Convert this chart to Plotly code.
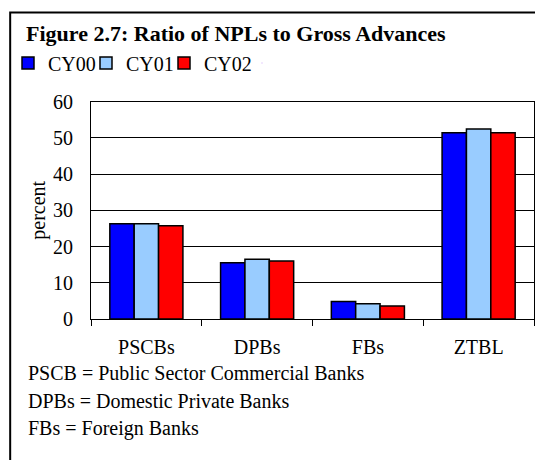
import plotly.graph_objects as go

# Data.
banks = ['PSCBs', 'DPBs', 'FBs', 'ZTBL']
cy00 = [26.3, 15.5, 4.8, 51.4]
cy01 = [26.3, 16.5, 4.2, 52.4]
cy02 = [25.7, 16.0, 3.6, 51.4]
series_names = ['CY00', 'CY01', 'CY02']
series_colors = ['#0000FF', '#99CCFF', '#FF0000']
notes = ['PSCB = Public Sector Commercial Banks',
         'DPBs = Domestic Private Banks',
         'FBs = Foreign Banks']

# The page body adds an 8px margin, so the figure is 8px smaller
# and everything below is placed in page pixels minus that offset.
OFF = 8
W, H = 543 - OFF, 460 - OFF
L, R, T, B = 91 - OFF, 8, 99 - OFF, 141
pw, ph = W - L - R, H - T - B


def px_x(x):
    return (x - OFF - L) / pw


def px_y(y):
    return (H - B - (y - OFF)) / ph


font = 'Liberation Serif, Times New Roman, serif'

fig = go.Figure()
for name, vals, color in zip(series_names, [cy00, cy01, cy02], series_colors):
    fig.add_trace(go.Bar(x=banks, y=vals, name=name, marker_color=color,
                         marker_line=dict(color='black', width=1.5)))

# Empty legend slot so the last legend label is not clipped.
fig.add_trace(go.Scatter(x=[banks[0]], y=[0], mode='markers', name=' ',
                         marker=dict(size=1, opacity=0), hoverinfo='skip'))

fig.update_layout(
    width=W, height=H,
    margin=dict(l=L, r=R, t=T, b=B),
    paper_bgcolor='white', plot_bgcolor='white',
    font=dict(family=font, size=20, color='black'),
    barmode='group', bargap=0.34, bargroupgap=0,
    title=dict(text='<b>Figure 2.7: Ratio of NPLs to Gross Advances</b>',
               x=(26 - OFF) / W, xref='container', xanchor='left',
               y=1 - (33 - OFF) / H, yref='container', yanchor='middle',
               font=dict(family=font, size=22)),
    legend=dict(orientation='h', xref='container', yref='container',
                x=0, y=1 - (63 - OFF) / H,
                xanchor='left', yanchor='middle',
                entrywidth=33, itemwidth=30,
                font=dict(family=font, size=20), bgcolor='rgba(0,0,0,0)'),
    showlegend=True,
)

fig.update_yaxes(range=[0, 60], dtick=10, showgrid=True, gridcolor='black',
                 gridwidth=1, showline=True, linecolor='black', linewidth=1,
                 mirror=True, ticks='', zeroline=False, ticklabelstandoff=13,
                 tickfont=dict(family=font, size=20),
                 title=dict(text='percent', standoff=2,
                            font=dict(family=font, size=20)))
fig.update_xaxes(showline=True, linecolor='black', linewidth=1, mirror=True,
                 ticks='outside', tickson='boundaries', ticklen=6,
                 tickcolor='black', ticklabelstandoff=10,
                 tickfont=dict(family=font, size=20))

# Footnotes with the abbreviations.
for i, note in enumerate(notes):
    fig.add_annotation(text=note, xref='paper', yref='paper',
                       x=px_x(26), y=px_y(374 + 28 * i),
                       xanchor='left', yanchor='middle', showarrow=False,
                       font=dict(family=font, size=20))

# Outer frame of the figure box.
fig.add_shape(type='rect', xref='paper', yref='paper',
              x0=px_x(10), x1=px_x(580), y0=px_y(500), y1=px_y(OFF + 1),
              line=dict(color='black', width=2), fillcolor='rgba(0,0,0,0)')

fig.write_html('out.html')
